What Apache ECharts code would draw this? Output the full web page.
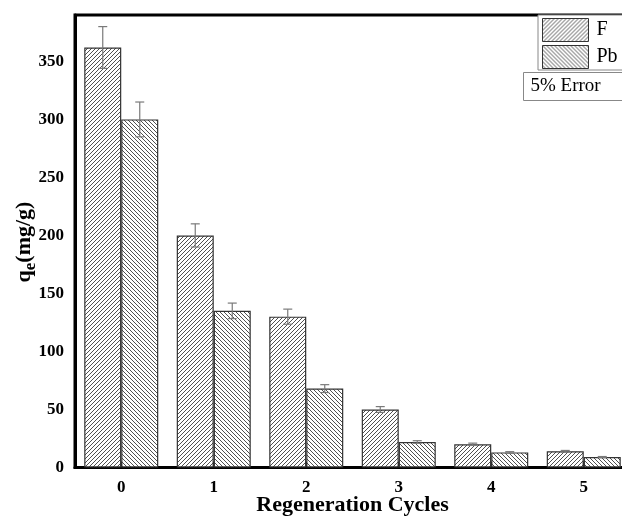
<!DOCTYPE html>
<html>
<head>
<meta charset="utf-8">
<script src="https://cdn.jsdelivr.net/npm/echarts@6/dist/echarts.min.js"></script>
<style>
  html, body { margin: 0; padding: 0; background: #fff; }
  #chart { width: 622px; height: 517px; }
</style>
</head>
<body>
<div id="chart"></div>
<script>
// Adsorption capacity over regeneration cycles
const cycles = ['0', '1', '2', '3', '4', '5'];
const fValues = [362, 200, 130, 50, 20, 14];
const pbValues = [300, 135, 68, 22, 13, 9];
const fErrors = [18, 10, 6.5, 2.5, 1, 0.7];
const pbErrors = [15, 6.7, 3.4, 1.1, 0.65, 0.45];
const yTicks = [0, 50, 100, 150, 200, 250, 300, 350];

const SERIF = '"Liberation Serif", "DejaVu Serif", serif';

// Diagonal hatch tile; dir = 1 draws "/" lines, dir = -1 draws "\" lines
function hatch(dir) {
  const s = 8, p = 4;
  const c = document.createElement('canvas');
  c.width = s; c.height = s;
  const g = c.getContext('2d');
  g.fillStyle = '#fff';
  g.fillRect(0, 0, s, s);
  g.strokeStyle = '#505050';
  g.lineWidth = 1;
  for (let x0 = -s; x0 <= s; x0 += p) {
    g.beginPath();
    if (dir > 0) { g.moveTo(x0, s); g.lineTo(x0 + s, 0); }
    else { g.moveTo(x0, 0); g.lineTo(x0 + s, s); }
    g.stroke();
  }
  return { image: c, repeat: 'repeat' };
}

const fFill = hatch(1);
const pbFill = hatch(-1);

// Error whiskers drawn through the category/value scales
function errorSeries(values, errors, side) {
  return {
    type: 'custom',
    silent: true,
    z: 5,
    data: values.map((v, i) => [i, v, errors[i]]),
    renderItem: function (params, api) {
      const i = api.value(0), v = api.value(1), e = api.value(2);
      const band = api.size([1, 0])[0];
      const top = api.coord([i, v + e]);
      const bot = api.coord([i, v - e]);
      const x = top[0] + side * band * 0.2;
      const cap = 4.5;
      const st = { stroke: '#7a7a7a', lineWidth: 1.2 };
      return {
        type: 'group',
        children: [
          { type: 'line', shape: { x1: x, y1: top[1], x2: x, y2: bot[1] }, style: st },
          { type: 'line', shape: { x1: x - cap, y1: top[1], x2: x + cap, y2: top[1] }, style: st },
          { type: 'line', shape: { x1: x - cap, y1: bot[1], x2: x + cap, y2: bot[1] }, style: st }
        ]
      };
    }
  };
}

const chart = echarts.init(document.getElementById('chart'), null, { renderer: 'canvas' });

chart.setOption({
  animation: false,
  backgroundColor: '#fff',
  grid: {
    left: 75, top: 15, width: 555, height: 452.5,
    outerBoundsMode: 'none',
    containLabel: false,
    show: true, borderColor: '#000', borderWidth: 3, backgroundColor: 'transparent'
  },
  legend: {
    data: ['F', 'Pb'],
    icon: 'rect',
    orient: 'vertical',
    left: 538, top: 15,
    padding: [3, 40, 1, 4],
    itemGap: 3,
    itemWidth: 46, itemHeight: 23,
    borderColor: '#888', borderWidth: 1,
    backgroundColor: '#fff',
    textStyle: { fontFamily: SERIF, fontSize: 20, color: '#000', padding: [0, 0, 0, 3] },
    itemStyle: { borderColor: '#333', borderWidth: 1 }
  },
  xAxis: {
    type: 'category',
    data: cycles,
    name: 'Regeneration Cycles',
    nameLocation: 'middle',
    nameMoveOverlap: false,
    nameGap: 38,
    nameTextStyle: { fontFamily: SERIF, fontSize: 22, fontWeight: 'bold', color: '#000', verticalAlign: 'middle' },
    axisLine: { lineStyle: { color: '#000', width: 3 } },
    axisTick: { show: true, inside: true, alignWithLabel: true, length: 6, lineStyle: { color: '#000', width: 3 } },
    axisLabel: { fontFamily: SERIF, fontSize: 17, fontWeight: 'bold', color: '#000', margin: 12 }
  },
  yAxis: {
    type: 'value',
    min: 0, max: 390, interval: 50,
    axisLine: { show: true, lineStyle: { color: '#000', width: 3 } },
    axisTick: { show: false },
    splitLine: { show: false },
    axisLabel: {
      fontFamily: SERIF, fontSize: 17, fontWeight: 'bold', color: '#000', margin: 11,
      showMaxLabel: false,
      formatter: v => (yTicks.indexOf(v) >= 0 ? String(v) : '')
    }
  },
  series: [
    {
      name: 'F', type: 'bar', data: fValues,
      barGap: '0%', barCategoryGap: '20%',
      itemStyle: { color: fFill, borderColor: '#333', borderWidth: 1.2 }
    },
    {
      name: 'Pb', type: 'bar', data: pbValues,
      barGap: '0%', barCategoryGap: '20%',
      itemStyle: { color: pbFill, borderColor: '#333', borderWidth: 1.2 }
    },
    errorSeries(fValues, fErrors, -1),
    errorSeries(pbValues, pbErrors, 1)
  ],
  graphic: [
    {
      type: 'text',
      x: 24, y: 242,
      rotation: Math.PI / 2,
      style: {
        text: '{q|q}{e|e}{q|(mg/g)}',
        align: 'center', verticalAlign: 'middle',
        rich: {
          q: { fontFamily: SERIF, fontSize: 22, fontWeight: 'bold', fill: '#000', lineHeight: 30 },
          e: { fontFamily: SERIF, fontSize: 17, fontWeight: 'bold', fill: '#000', verticalAlign: 'bottom', lineHeight: 30 }
        }
      }
    },
    {
      type: 'group',
      left: 523, top: 72,
      children: [
        { type: 'rect', shape: { x: 0, y: 0, width: 110, height: 28 }, style: { fill: '#fff', stroke: '#888', lineWidth: 1 } },
        { type: 'text', x: 7, y: 14, style: { text: '5% Error', fontFamily: SERIF, fontSize: 19, fill: '#000', verticalAlign: 'middle' } }
      ]
    }
  ]
});
</script>
</body>
</html>
